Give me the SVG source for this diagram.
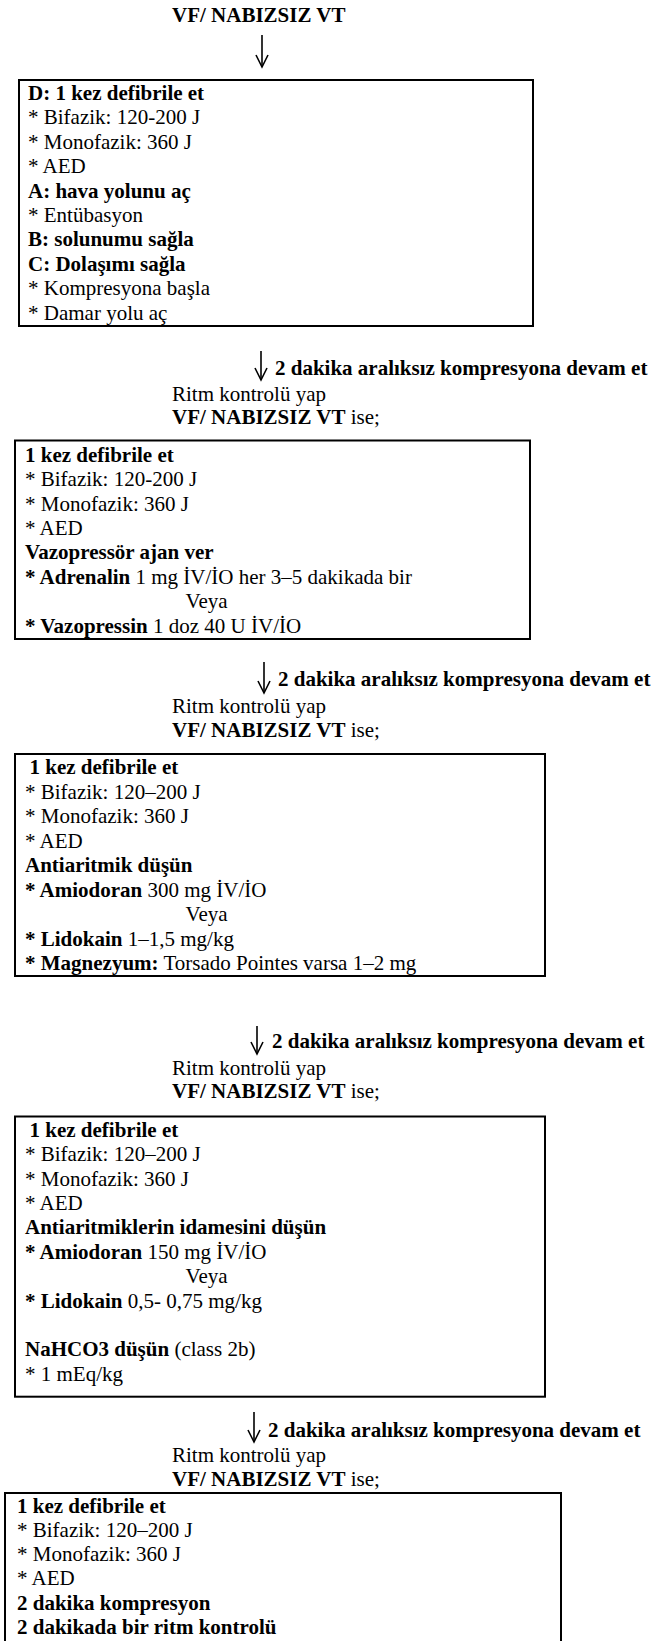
<svg xmlns="http://www.w3.org/2000/svg" width="659" height="1641" viewBox="0 0 659 1641">
<style>
text{font-family:"Liberation Serif",Tinos,"Times New Roman",Times,serif;font-size:21px;font-weight:normal;fill:#000}
.b{font-weight:bold}
.box{fill:#fff;stroke:#000;stroke-width:2}
.arr{fill:none;stroke:#000;stroke-width:1.6}
</style>
<rect width="659" height="1641" fill="#fff"/>

<g id="title" font-family="Liberation Serif, serif">
<text x="172" y="21.5" class="b">VF/ NABIZSIZ VT</text>
</g>

<g id="connectors">
<path class="arr" d="M262,35 V67"/>
<path d="M256,55 L262,67 L268,55" class="arr"/>
<path class="arr" d="M261,351 V380"/>
<path d="M255,368 L261,380 L267,368" class="arr"/>
<path class="arr" d="M264,662 V693"/>
<path d="M258,681 L264,693 L270,681" class="arr"/>
<path class="arr" d="M257,1026 V1054"/>
<path d="M251,1042 L257,1054 L263,1042" class="arr"/>
<path class="arr" d="M254,1412 V1442"/>
<path d="M248,1430 L254,1442 L260,1430" class="arr"/>
</g>

<g id="node1" font-family="Liberation Serif, serif">
<rect class="box" x="19" y="80" width="514" height="246"/>
<text x="28" y="100" class="b">D: 1 kez defibrile et</text>
<text x="28" y="124.4">* Bifazik: 120-200 J</text>
<text x="28" y="148.8">* Monofazik: 360 J</text>
<text x="28" y="173.2">* AED</text>
<text x="28" y="197.6" class="b">A: hava yolunu aç</text>
<text x="28" y="222">* Entübasyon</text>
<text x="28" y="246.4" class="b">B: solunumu sağla</text>
<text x="28" y="270.8" class="b">C: Dolaşımı sağla</text>
<text x="28" y="295.2">* Kompresyona başla</text>
<text x="28" y="319.6">* Damar yolu aç</text>
</g>

<g id="label2">
<text x="275" y="375" class="b">2 dakika aralıksız kompresyona devam et</text>
<text x="172" y="401">Ritm kontrolü yap</text>
<text x="172" y="424"><tspan class="b">VF/ NABIZSIZ VT</tspan> ise;</text>
</g>

<g id="node2">
<rect class="box" x="15" y="440.5" width="515" height="198.5"/>
<text x="25" y="461.7" class="b">1 kez defibrile et</text>
<text x="25" y="486.1">* Bifazik: 120-200 J</text>
<text x="25" y="510.5">* Monofazik: 360 J</text>
<text x="25" y="534.9">* AED</text>
<text x="25" y="559.3" class="b">Vazopressör ajan ver</text>
<text x="25" y="583.7"><tspan class="b">* Adrenalin</tspan> 1 mg İV/İO her 3–5 dakikada bir</text>
<text x="185.6" y="608.1">Veya</text>
<text x="25" y="632.5"><tspan class="b">* Vazopressin</tspan> 1 doz 40 U İV/İO</text>
</g>

<g id="label3">
<text x="278" y="686" class="b">2 dakika aralıksız kompresyona devam et</text>
<text x="172" y="713">Ritm kontrolü yap</text>
<text x="172" y="737"><tspan class="b">VF/ NABIZSIZ VT</tspan> ise;</text>
</g>

<g id="node3">
<rect class="box" x="15" y="754" width="530" height="222"/>
<text x="29.5" y="774" class="b">1 kez defibrile et</text>
<text x="25" y="798.5">* Bifazik: 120–200 J</text>
<text x="25" y="823">* Monofazik: 360 J</text>
<text x="25" y="847.5">* AED</text>
<text x="25" y="872" class="b">Antiaritmik düşün</text>
<text x="25" y="896.5"><tspan class="b">* Amiodoran</tspan> 300 mg İV/İO</text>
<text x="185.6" y="921">Veya</text>
<text x="25" y="945.5"><tspan class="b">* Lidokain</tspan> 1–1,5 mg/kg</text>
<text x="25" y="970"><tspan class="b">* Magnezyum:</tspan> Torsado Pointes varsa 1–2 mg</text>
</g>

<g id="label4">
<text x="272" y="1047.5" class="b">2 dakika aralıksız kompresyona devam et</text>
<text x="172" y="1075">Ritm kontrolü yap</text>
<text x="172" y="1098.3"><tspan class="b">VF/ NABIZSIZ VT</tspan> ise;</text>
</g>

<g id="node4">
<rect class="box" x="15" y="1116.5" width="530" height="280.2"/>
<text x="29.5" y="1136.7" class="b">1 kez defibrile et</text>
<text x="25" y="1161.1">* Bifazik: 120–200 J</text>
<text x="25" y="1185.5">* Monofazik: 360 J</text>
<text x="25" y="1209.9">* AED</text>
<text x="25" y="1234.3" class="b">Antiaritmiklerin idamesini düşün</text>
<text x="25" y="1258.7"><tspan class="b">* Amiodoran</tspan> 150 mg İV/İO</text>
<text x="185.6" y="1283.1">Veya</text>
<text x="25" y="1307.5"><tspan class="b">* Lidokain</tspan> 0,5- 0,75 mg/kg</text>
<text x="25" y="1356.3"><tspan class="b">NaHCO3 düşün</tspan> (class 2b)</text>
<text x="25" y="1380.7">* 1 mEq/kg</text>
</g>

<g id="label5">
<text x="268" y="1436.7" class="b">2 dakika aralıksız kompresyona devam et</text>
<text x="172" y="1461.7">Ritm kontrolü yap</text>
<text x="172" y="1486"><tspan class="b">VF/ NABIZSIZ VT</tspan> ise;</text>
</g>

<g id="node5">
<path class="box" d="M5,1650 V1493 H561 V1650"/>
<text x="17" y="1512.7" class="b">1 kez defibrile et</text>
<text x="17" y="1536.9">* Bifazik: 120–200 J</text>
<text x="17" y="1561.1">* Monofazik: 360 J</text>
<text x="17" y="1585.3">* AED</text>
<text x="17" y="1609.5" class="b">2 dakika kompresyon</text>
<text x="17" y="1633.7" class="b">2 dakikada bir ritm kontrolü</text>
</g>
</svg>
